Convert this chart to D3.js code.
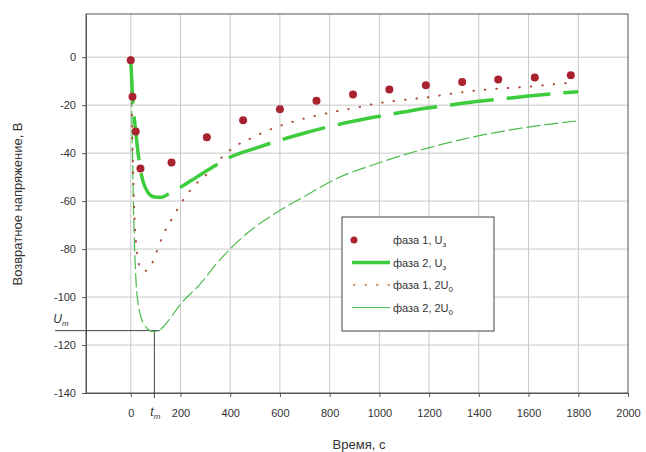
<!DOCTYPE html>
<html lang="ru">
<head>
<meta charset="UTF-8">
<title>Возвратное напряжение</title>
<script src="https://cdn.jsdelivr.net/npm/d3@7"></script>
<style>
    body { margin: 0; background: #fff; }
    svg { font-family: "Liberation Sans", Arial, sans-serif; }
    .tick text { font-size: 11px; fill: #333; }
    .tick line, .domain { stroke: #555; }
</style>
</head>
<body>
<svg width="646" height="452"></svg>
<script>
// фаза 1, U_з (точки)
var p1Time = [0, 7, 20, 39, 164, 306, 452, 600, 747, 894, 1040, 1187, 1333, 1478, 1625, 1770];
var p1Volt = [-1.3, -16.5, -31, -46.4, -43.9, -33.4, -26.3, -21.7, -18.2, -15.6, -13.5, -11.7, -10.3, -9.3, -8.5, -7.5];

// фаза 2, U_з (толстая штриховая)
var p2Time = [0, 7, 20, 36, 50, 70, 95, 120, 160, 200, 265, 330, 400, 500, 600, 700, 800, 900, 1000, 1100, 1200, 1300, 1400, 1500, 1600, 1700, 1800];
var p2Volt = [-1, -16, -31, -45, -52, -56.5, -58.3, -58.4, -56.5, -54.2, -50, -45.8, -41.7, -38, -34.6, -31.6, -28.9, -26.6, -24.6, -22.8, -21.1, -19.7, -18.4, -17.3, -16.2, -15.2, -14.4];

// фаза 1, 2U_0 (пунктир)
var p3Time = [0, 3, 6, 10, 15, 22, 30, 45, 65, 90, 115, 135, 165, 195, 225, 260, 290, 340, 385, 430, 480, 530, 590, 640, 690, 740, 790, 840, 890, 990, 1090, 1190, 1290, 1390, 1490, 1590, 1700, 1780];
var p3Volt = [0, -15, -32, -50, -66, -78, -85, -89, -89, -85, -78, -73, -67.5, -62, -57.5, -53, -50.5, -44.5, -40, -36.5, -34, -31.5, -29, -27.3, -25.8, -24.5, -23.4, -22.3, -21.4, -19.3, -17.9, -16.8, -15.2, -13.9, -13, -12.4, -11.3, -10.5];

// фаза 2, 2U_0 (тонкая штриховая)
var p4Time = [0, 3, 6, 10, 15, 22, 30, 40, 55, 70, 85, 100, 120, 150, 200, 280, 350, 450, 590, 700, 820, 1000, 1190, 1380, 1570, 1800];
var p4Volt = [0, -15, -35, -58, -78, -95, -103, -108, -111.5, -113.5, -114.3, -114.3, -113.5, -110, -103, -94.5, -85.5, -75, -64.5, -58, -51, -44, -38, -33.2, -29.6, -26.5];

var xTicks = [0, 200, 400, 600, 800, 1000, 1200, 1400, 1600, 1800, 2000];
var yTicks = [0, -20, -40, -60, -80, -100, -120, -140];
var tMax = 95;
var uMax = -114;

var svg = d3.select("svg");
var margin = {top: 14, right: 18, bottom: 59, left: 86};
var width = +svg.attr("width") - margin.left - margin.right;
var height = +svg.attr("height") - margin.top - margin.bottom;

var x = d3.scaleLinear().domain([-180, 2000]).range([0, width]);
var y = d3.scaleLinear().domain([-140, 18]).range([height, 0]);

var g = svg.append("g")
    .attr("transform", "translate(" + margin.left + "," + margin.top + ")");

// сетка
g.append("g").selectAll("line")
    .data(xTicks.filter(function(d) { return d < 2000; }))
    .enter().append("line")
    .attr("x1", function(d) { return x(d); })
    .attr("x2", function(d) { return x(d); })
    .attr("y1", 0).attr("y2", height)
    .attr("stroke", "#c8c8c8");

g.append("g").selectAll("line")
    .data(yTicks.filter(function(d) { return d > -140; }))
    .enter().append("line")
    .attr("x1", 0).attr("x2", width)
    .attr("y1", function(d) { return y(d); })
    .attr("y2", function(d) { return y(d); })
    .attr("stroke", "#c8c8c8");

// оси
g.append("g")
    .attr("transform", "translate(0," + height + ")")
    .call(d3.axisBottom(x).tickValues(xTicks).tickSize(4).tickSizeOuter(0).tickPadding(12)
        .tickFormat(d3.format("d")));

g.append("g")
    .call(d3.axisLeft(y).tickValues(yTicks).tickSize(4).tickSizeOuter(0).tickPadding(6)
        .tickFormat(function(d) { return d === 0 ? "0" : "-" + Math.abs(d); }));

g.append("rect")
    .attr("width", width).attr("height", height)
    .attr("fill", "none").attr("stroke", "#555");

// t_m и U_m
g.append("line")
    .attr("x1", -31).attr("x2", x(117))
    .attr("y1", y(uMax)).attr("y2", y(uMax))
    .attr("stroke", "#444");
g.append("line")
    .attr("x1", x(tMax)).attr("x2", x(tMax))
    .attr("y1", y(uMax)).attr("y2", height + 5)
    .attr("stroke", "#444");

var tm = g.append("text")
    .attr("x", x(tMax) + 1).attr("y", height + 23)
    .attr("text-anchor", "middle")
    .attr("font-size", 12).attr("fill", "#333");
tm.append("tspan").attr("font-style", "italic").text("t");
tm.append("tspan").attr("font-size", 8).attr("font-style", "italic").attr("dy", 3).text("m");

var um = g.append("text")
    .attr("x", -25).attr("y", y(uMax) - 8)
    .attr("text-anchor", "middle")
    .attr("font-size", 12).attr("fill", "#333");
um.append("tspan").attr("font-style", "italic").text("U");
um.append("tspan").attr("font-size", 8).attr("font-style", "italic").attr("dy", 3).text("m");

// кривые
function toPoints(ts, vs) {
    return ts.map(function(t, i) { return [t, vs[i]]; });
}
var line = d3.line()
    .x(function(d) { return x(d[0]); })
    .y(function(d) { return y(d[1]); })
    .curve(d3.curveMonotoneX);

g.append("path")
    .datum(toPoints(p4Time, p4Volt))
    .attr("d", line)
    .attr("fill", "none")
    .attr("stroke", "#4cbb4c")
    .attr("stroke-width", 1.2)
    .attr("stroke-dasharray", "14,4");

g.append("path")
    .datum(toPoints(p3Time, p3Volt))
    .attr("d", line)
    .attr("fill", "none")
    .attr("stroke", "#b04a3a")
    .attr("stroke-width", 2)
    .attr("stroke-linecap", "round")
    .attr("stroke-dasharray", "0.5,11");

g.append("path")
    .datum(toPoints(p2Time, p2Volt))
    .attr("d", line)
    .attr("fill", "none")
    .attr("stroke", "#3ccc3c")
    .attr("stroke-width", 3.5)
    .attr("stroke-dasharray", "44,13");

g.append("g").selectAll("circle")
    .data(toPoints(p1Time, p1Volt))
    .enter().append("circle")
    .attr("cx", function(d) { return x(d[0]); })
    .attr("cy", function(d) { return y(d[1]); })
    .attr("r", 4)
    .attr("fill", "#aa2230");

// подписи осей
svg.append("text")
    .attr("transform", "translate(22," + (margin.top + 190) + ") rotate(-90)")
    .attr("text-anchor", "middle")
    .attr("font-size", 13).attr("fill", "#333")
    .text("Возвратное напряжение, В");

svg.append("text")
    .attr("x", 359).attr("y", 449)
    .attr("text-anchor", "middle")
    .attr("font-size", 13).attr("fill", "#333")
    .text("Время, с");

// легенда
var legendItems = [
    {name: "фаза 1, ", main: "U", sub: "з", kind: "dot"},
    {name: "фаза 2, ", main: "U", sub: "з", kind: "thick"},
    {name: "фаза 1, ", main: "2U", sub: "0", kind: "dotted"},
    {name: "фаза 2, ", main: "2U", sub: "0", kind: "thin"}
];

var legend = svg.append("g").attr("transform", "translate(342,217)");
legend.append("rect")
    .attr("width", 152).attr("height", 114)
    .attr("fill", "#fff").attr("stroke", "#444");

var item = legend.selectAll("g.item")
    .data(legendItems)
    .enter().append("g")
    .attr("class", "item")
    .attr("transform", function(d, i) { return "translate(0," + (23 + i * 22.5) + ")"; });

item.each(function(d) {
    var s = d3.select(this);
    if (d.kind === "dot") {
        s.append("circle").attr("cx", 12).attr("cy", 0).attr("r", 3.5).attr("fill", "#aa2230");
    } else if (d.kind === "thick") {
        s.append("line").attr("x1", 10).attr("x2", 48).attr("stroke", "#3ccc3c").attr("stroke-width", 3.5);
    } else if (d.kind === "dotted") {
        s.append("line").attr("x1", 12).attr("x2", 48).attr("stroke", "#c98a50").attr("stroke-width", 2)
            .attr("stroke-linecap", "round").attr("stroke-dasharray", "0.5,11");
    } else {
        s.append("line").attr("x1", 10).attr("x2", 48).attr("stroke", "#4cbb4c").attr("stroke-width", 1.2);
    }
    var t = s.append("text").attr("x", 51).attr("y", 4)
        .attr("font-size", 11).attr("fill", "#333");
    t.append("tspan").text(d.name + d.main);
    t.append("tspan").attr("font-size", 8).attr("dy", 3).text(d.sub);
});
</script>
</body>
</html>
